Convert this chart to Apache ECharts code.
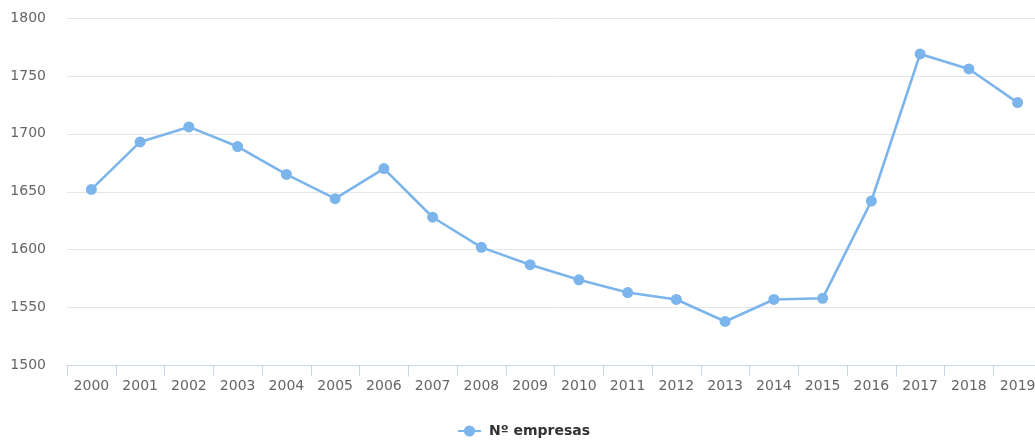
<!DOCTYPE html>
<html>
<head>
<meta charset="utf-8">
<script src="https://cdn.jsdelivr.net/npm/echarts@6/dist/echarts.min.js"></script>
<style>
html,body{margin:0;padding:0;background:#fff;overflow:hidden;width:1035px;height:441px;}
#chart{width:1042px;height:441px;}
</style>
</head>
<body>
<div id="chart"></div>
<script>
const categories = ['2000','2001','2002','2003','2004','2005','2006','2007','2008','2009','2010','2011','2012','2013','2014','2015','2016','2017','2018','2019'];
const empresas = [1652,1693,1706,1689,1665,1644,1670,1628,1602,1587,1574,1563,1557,1538,1557,1558,1642,1769,1756,1727];
const seriesName = 'Nº empresas';
const yMin = 1500, yMax = 1800, yInterval = 50;

const chart = echarts.init(document.getElementById('chart'), null, {renderer:'canvas'});
chart.setOption({
  animation:false,
  grid:{left:67,right:0,top:18,bottom:75.5,containLabel:false},
  legend:{
    bottom:3,left:457,padding:0,
    data:[seriesName],
    itemWidth:23,itemHeight:14,itemGap:10,
    textStyle:{fontFamily:'DejaVu Sans',fontSize:14,fontWeight:'bold',color:'#333333',padding:[0,0,0,3]}
  },
  xAxis:{
    type:'category',data:categories,boundaryGap:true,
    axisLine:{lineStyle:{color:'#ccd6eb',width:1}},
    axisTick:{show:true,length:11,lineStyle:{color:'#ccd6eb'},alignWithLabel:false},
    axisLabel:{fontFamily:'DejaVu Sans',fontSize:14,color:'#666666',margin:14,interval:0},
    splitLine:{show:false}
  },
  yAxis:{
    type:'value',min:yMin,max:yMax,interval:yInterval,
    axisLine:{show:false},axisTick:{show:false},
    axisLabel:{fontFamily:'DejaVu Sans',fontSize:14,color:'#666666',margin:21,formatter:function(v){return String(v);}},
    splitLine:{lineStyle:{color:'#e6e6e6',width:1}}
  },
  series:[{
    name:seriesName,type:'line',data:empresas,
    symbol:'circle',symbolSize:11,
    lineStyle:{color:'#7cb5ec',width:2.6},
    itemStyle:{color:'#7cb5ec'}
  }]
});
</script>
</body>
</html>
